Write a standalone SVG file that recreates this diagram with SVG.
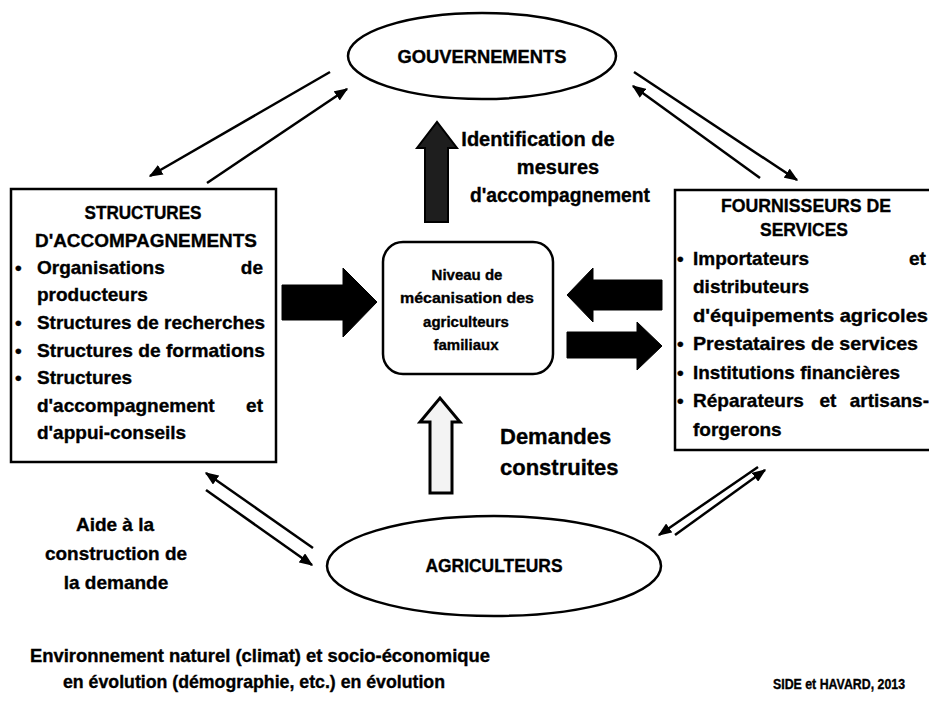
<svg xmlns="http://www.w3.org/2000/svg" width="929" height="705" viewBox="0 0 929 705">
<style>
.t{font-family:"Liberation Sans","Noto Sans",sans-serif;font-weight:bold;fill:#000;stroke:#000;stroke-width:0.35}
.b{font-size:19px}
.c{font-size:15px}
.shape{fill:#fff;stroke:#000;stroke-width:2.5}
.ln{stroke:#000;stroke-width:2.5;fill:none;marker-end:url(#ah)}
.big{fill:#000;stroke:#000;stroke-width:1}
</style>
<defs>
<marker id="ah" viewBox="0 0 10 8" markerUnits="userSpaceOnUse" markerWidth="14" markerHeight="11" refX="9" refY="4" orient="auto">
<path d="M0,0 L10,4 L0,8 z" fill="#000"/>
</marker>
</defs>
<rect width="929" height="705" fill="#fff"/>

<g id="gouvernements">
<ellipse class="shape" cx="482" cy="56" rx="134" ry="43"/>
<text class="t" x="482" y="63" font-size="18" text-anchor="middle" textLength="169" lengthAdjust="spacingAndGlyphs">GOUVERNEMENTS</text>
</g>

<g id="agriculteurs">
<ellipse class="shape" cx="494" cy="566" rx="167" ry="50"/>
<text class="t" x="494" y="572" font-size="18" text-anchor="middle" textLength="137" lengthAdjust="spacingAndGlyphs">AGRICULTEURS</text>
</g>

<g id="structures">
<rect class="shape" x="11" y="189" width="265" height="273" stroke-width="2"/>
<text class="t b" x="143" y="219" text-anchor="middle" textLength="117" lengthAdjust="spacingAndGlyphs">STRUCTURES</text>
<text class="t b" x="146" y="247" text-anchor="middle" textLength="222" lengthAdjust="spacingAndGlyphs">D'ACCOMPAGNEMENTS</text>
<text class="t b" x="15" y="274">•</text>
<text class="t b" x="37" y="274">Organisations</text>
<text class="t b" x="263" y="274" text-anchor="end">de</text>
<text class="t b" x="37" y="301">producteurs</text>
<text class="t b" x="15" y="329">•</text>
<text class="t b" x="37" y="329" textLength="228" lengthAdjust="spacingAndGlyphs">Structures de recherches</text>
<text class="t b" x="15" y="357">•</text>
<text class="t b" x="37" y="357" textLength="228" lengthAdjust="spacingAndGlyphs">Structures de formations</text>
<text class="t b" x="15" y="384">•</text>
<text class="t b" x="37" y="384">Structures</text>
<text class="t b" x="37" y="412">d'accompagnement</text>
<text class="t b" x="263" y="412" text-anchor="end">et</text>
<text class="t b" x="37" y="439">d'appui-conseils</text>
</g>

<g id="fournisseurs">
<rect class="shape" x="675" y="190" width="275" height="260" stroke-width="2"/>
<text class="t b" x="806" y="212" text-anchor="middle" textLength="170" lengthAdjust="spacingAndGlyphs">FOURNISSEURS DE</text>
<text class="t b" x="804" y="236" text-anchor="middle" textLength="88" lengthAdjust="spacingAndGlyphs">SERVICES</text>
<text class="t b" x="677" y="265">•</text>
<text class="t b" x="693" y="265">Importateurs</text>
<text class="t b" x="909" y="265">et</text>
<text class="t b" x="693" y="293">distributeurs</text>
<text class="t b" x="693" y="322" textLength="235" lengthAdjust="spacingAndGlyphs">d'équipements agricoles</text>
<text class="t b" x="677" y="350">•</text>
<text class="t b" x="693" y="350" textLength="225" lengthAdjust="spacingAndGlyphs">Prestataires de services</text>
<text class="t b" x="677" y="379">•</text>
<text class="t b" x="693" y="379" textLength="207" lengthAdjust="spacingAndGlyphs">Institutions financières</text>
<text class="t b" x="677" y="407">•</text>
<text class="t b" x="693" y="407">Réparateurs</text>
<text class="t b" x="828" y="407" text-anchor="middle">et</text>
<text class="t b" x="929" y="407" text-anchor="end">artisans-</text>
<text class="t b" x="693" y="436">forgerons</text>
</g>

<g id="niveau">
<rect class="shape" x="383" y="242" width="170" height="132" rx="20" ry="20"/>
<text class="t c" x="467" y="280" text-anchor="middle">Niveau de</text>
<text class="t c" x="467" y="303" text-anchor="middle" textLength="134" lengthAdjust="spacingAndGlyphs">mécanisation des</text>
<text class="t c" x="466" y="327" text-anchor="middle">agriculteurs</text>
<text class="t c" x="466" y="350" text-anchor="middle">familiaux</text>
</g>

<g id="connectors">
<line class="ln" x1="330" y1="72" x2="150" y2="176"/>
<line class="ln" x1="207" y1="183" x2="347" y2="89"/>
<line class="ln" x1="634" y1="72" x2="797" y2="180"/>
<line class="ln" x1="760" y1="178" x2="633" y2="86"/>
<line class="ln" x1="313" y1="548" x2="206" y2="473"/>
<line class="ln" x1="206" y1="490" x2="312" y2="565"/>
<line class="ln" x1="675" y1="535" x2="765" y2="470"/>
<line class="ln" x1="758" y1="467" x2="659" y2="535"/>
<polygon class="big" points="282,285 343,285 343,268 377,302 343,337 343,320 282,320"/>
<polygon class="big" points="662,280 593,280 593,268 567,295 593,322 593,310 662,310"/>
<polygon class="big" points="567,332 637,332 637,322 662,346 637,370 637,358 567,358"/>
<polygon points="425,222 425,148 417,148 437,122 457,148 448,148 448,222" fill="#1e1e1e" stroke="#000" stroke-width="2"/>
<polygon points="430,493 430,422 420,422 440,398 460,422 452,422 452,493" fill="#f3f3f3" stroke="#000" stroke-width="3"/>
</g>

<g id="labels">
<text class="t" x="538" y="146" font-size="20" text-anchor="middle">Identification de</text>
<text class="t" x="558" y="174" font-size="20" text-anchor="middle">mesures</text>
<text class="t" x="560" y="202" font-size="20" text-anchor="middle" textLength="180" lengthAdjust="spacingAndGlyphs">d'accompagnement</text>
<text class="t" x="500" y="444" font-size="22">Demandes</text>
<text class="t" x="500" y="475" font-size="22">construites</text>
<text class="t" x="115" y="531" font-size="19" text-anchor="middle">Aide à la</text>
<text class="t" x="116" y="560" font-size="19" text-anchor="middle" textLength="142" lengthAdjust="spacingAndGlyphs">construction de</text>
<text class="t" x="116" y="589" font-size="19" text-anchor="middle">la demande</text>
<text class="t" x="260" y="662" font-size="18" text-anchor="middle" textLength="460" lengthAdjust="spacingAndGlyphs">Environnement naturel (climat) et socio-économique</text>
<text class="t" x="254" y="688" font-size="18" text-anchor="middle" textLength="382" lengthAdjust="spacingAndGlyphs">en évolution (démographie, etc.) en évolution</text>
<text class="t" x="839" y="689" font-size="14" text-anchor="middle" textLength="132" lengthAdjust="spacingAndGlyphs">SIDE et HAVARD, 2013</text>
</g>
</svg>
